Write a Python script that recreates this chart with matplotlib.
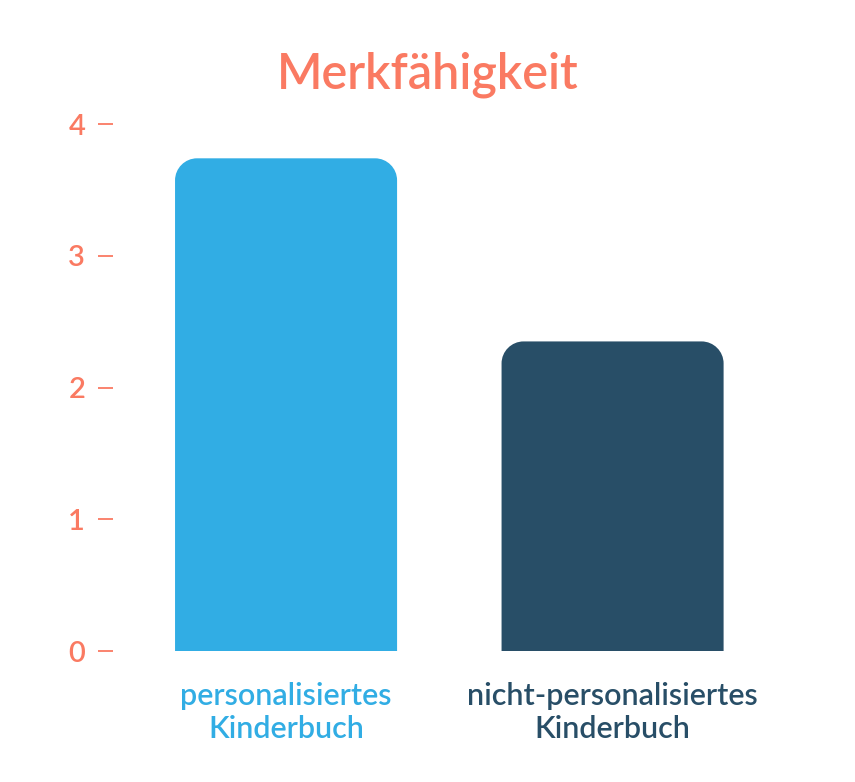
import matplotlib.pyplot as plt
from matplotlib.path import Path
from matplotlib.patches import PathPatch

categories = ['personalisiertes\nKinderbuch', 'nicht-personalisiertes\nKinderbuch']
values = [3.74, 2.35]
yticks = [0, 1, 2, 3, 4]
colors = ['#31ADE4', '#284E67']
coral = '#FA7A62'

plt.rcParams['font.family'] = ['Lato', 'DejaVu Sans']

fig = plt.figure(figsize=(8.55, 7.82), dpi=100)
W, H = 855, 782
ax = fig.add_axes([113 / W, 0.1675, (800 - 113) / W, 0.6907])
ax.set_xlim(-0.53, 1.574)
ax.set_ylim(0, 4.1)

bars = ax.bar(range(len(values)), values, width=0.68, color=colors)

# swap plain bars for ones with rounded tops
fig.canvas.draw()
px_x = ax.transData.transform((1, 0))[0] - ax.transData.transform((0, 0))[0]
px_y = ax.transData.transform((0, 1))[1] - ax.transData.transform((0, 0))[1]
r_px = 22
rx, ry = r_px / px_x, r_px / px_y
k = 0.55
for b, c in zip(bars, colors):
    x0, w, h = b.get_x(), b.get_width(), b.get_height()
    x1 = x0 + w
    b.set_visible(False)
    verts = [(x0, 0), (x0, h - ry),
             (x0, h - ry + k * ry), (x0 + rx - k * rx, h), (x0 + rx, h),
             (x1 - rx, h),
             (x1 - rx + k * rx, h), (x1, h - ry + k * ry), (x1, h - ry),
             (x1, 0), (x0, 0)]
    codes = [Path.MOVETO, Path.LINETO,
             Path.CURVE4, Path.CURVE4, Path.CURVE4,
             Path.LINETO,
             Path.CURVE4, Path.CURVE4, Path.CURVE4,
             Path.LINETO, Path.CLOSEPOLY]
    ax.add_patch(PathPatch(Path(verts, codes), fc=c, ec='none'))

for s in ax.spines.values():
    s.set_visible(False)

ax.set_yticks(yticks)
ax.tick_params(axis='y', colors=coral, labelsize=21, length=11, width=1.3, pad=9)
for lbl in ax.get_yticklabels():
    lbl.set_fontweight('semibold')
ax.set_xticks(range(len(categories)))
ax.set_xticklabels(categories, fontsize=22, linespacing=1.25, fontweight='semibold')
ax.tick_params(axis='x', length=0, pad=22)
for lbl, c in zip(ax.get_xticklabels(), colors):
    lbl.set_color(c)

fig.text(428 / W, 1 - 75 / H, 'Merkfähigkeit', color=coral, fontsize=35,
         fontweight='semibold', ha='center', va='center')

fig.savefig('out.png', dpi=100)
